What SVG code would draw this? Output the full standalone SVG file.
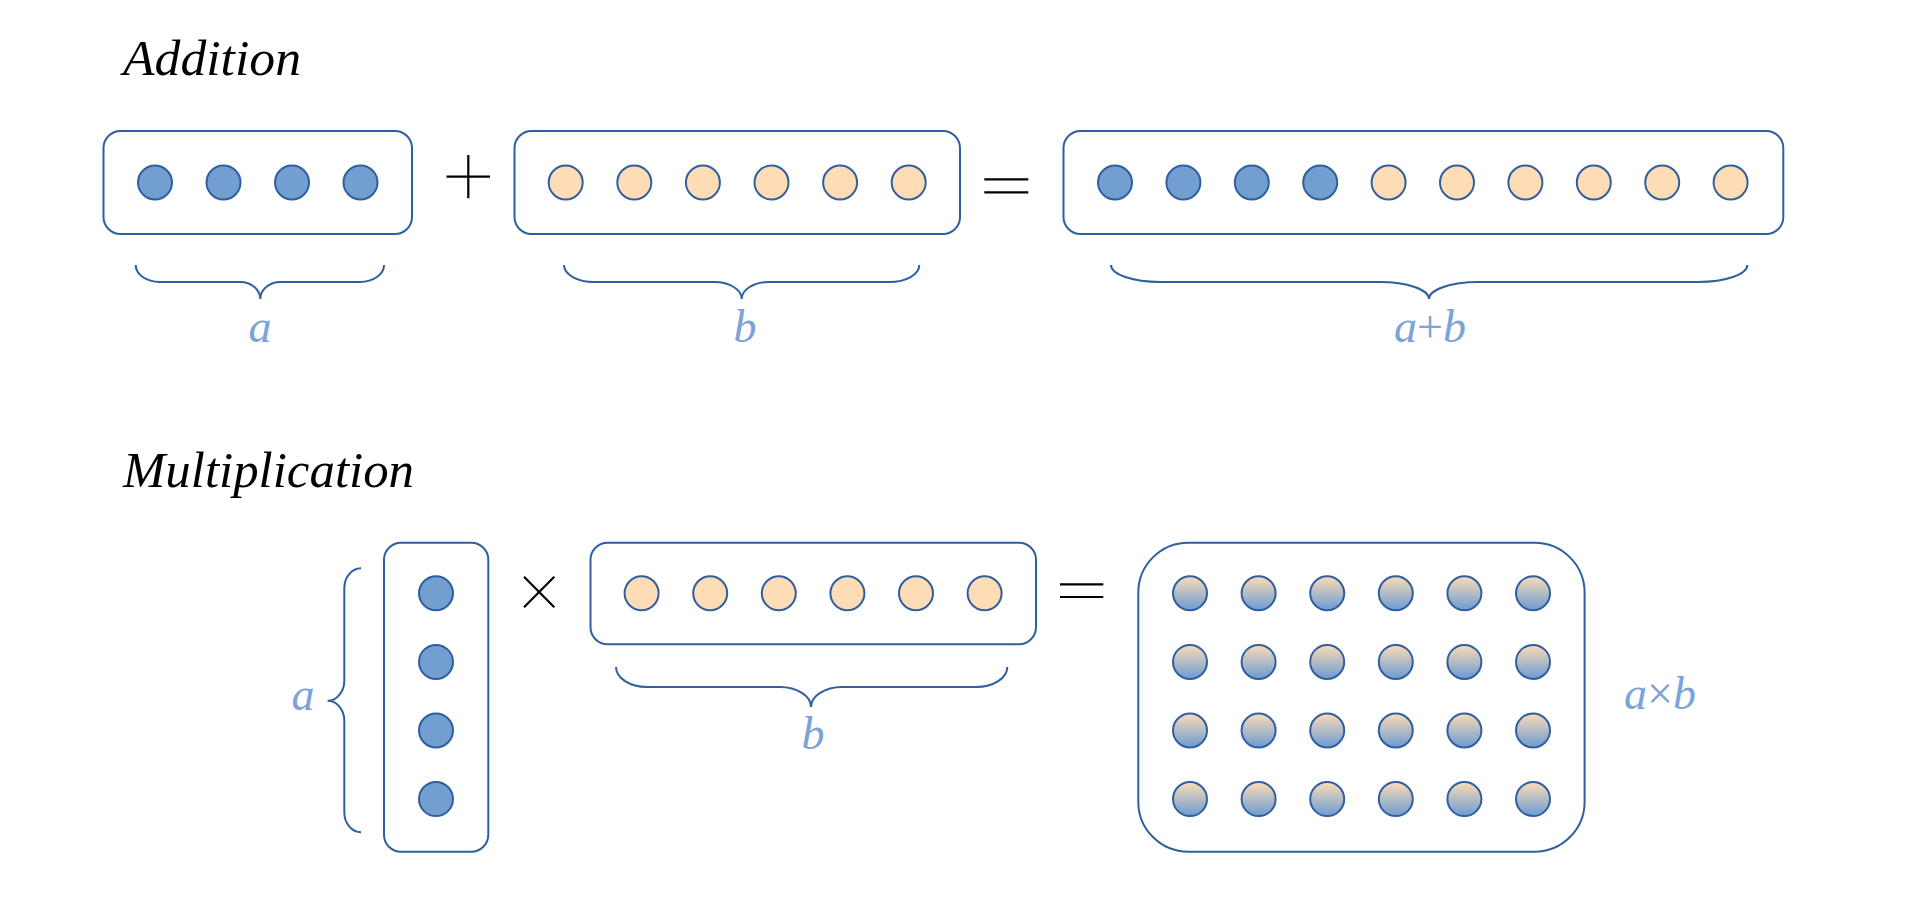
<svg xmlns="http://www.w3.org/2000/svg" width="1920" height="917" viewBox="0 0 1920 917">
<defs>
<linearGradient id="mix" x1="0" y1="0" x2="0" y2="1">
<stop offset="0" stop-color="#fcdcb6"/>
<stop offset="1" stop-color="#6b9bd3"/>
</linearGradient>
<style>
.box{fill:#fff;stroke:#2f5f9f;stroke-width:2}
.cb{fill:#729fcf;stroke:#2f5f9f;stroke-width:2}
.cp{fill:#fedcb5;stroke:#2f5f9f;stroke-width:2}
.cg{fill:url(#mix);stroke:#2f5f9f;stroke-width:2}
.brace{fill:none;stroke:#2f5f9f;stroke-width:2}
.op{stroke:#000;stroke-width:2.2;fill:none}
.title{font-family:"Liberation Serif",serif;font-style:italic;font-size:51px;fill:#000}
.lbl{font-family:"Liberation Serif",serif;font-style:italic;font-size:46px;fill:#7ba3d8;text-anchor:middle}
.up{font-style:normal}
</style>
</defs>
<rect width="1920" height="917" fill="#fff"/>

<text class="title" x="123" y="75" textLength="178" lengthAdjust="spacingAndGlyphs">Addition</text>
<text class="title" x="123" y="487" textLength="291" lengthAdjust="spacingAndGlyphs">Multiplication</text>

<g id="add-a">
<rect class="box" x="103.5" y="131" width="308.5" height="103" rx="17"/>
<circle class="cb" cx="155" cy="182.5" r="17"/>
<circle class="cb" cx="223.5" cy="182.5" r="17"/>
<circle class="cb" cx="292" cy="182.5" r="17"/>
<circle class="cb" cx="360.5" cy="182.5" r="17"/>
</g>

<g id="add-plus"><path class="op" d="M446.5,176.7 H490 M468.3,155 V198.3"/></g>

<g id="add-b">
<rect class="box" x="514.5" y="131" width="445.5" height="103" rx="17"/>
<circle class="cp" cx="565.7" cy="182.5" r="17"/>
<circle class="cp" cx="634.3" cy="182.5" r="17"/>
<circle class="cp" cx="702.9" cy="182.5" r="17"/>
<circle class="cp" cx="771.5" cy="182.5" r="17"/>
<circle class="cp" cx="840.1" cy="182.5" r="17"/>
<circle class="cp" cx="908.7" cy="182.5" r="17"/>
</g>

<g id="add-eq"><path class="op" d="M984.3,179.3 H1028.3 M984.3,192.3 H1028.3"/></g>

<g id="add-ab">
<rect class="box" x="1063.5" y="131" width="719.8" height="103" rx="17"/>
<circle class="cb" cx="1115" cy="182.5" r="17"/>
<circle class="cb" cx="1183.4" cy="182.5" r="17"/>
<circle class="cb" cx="1251.8" cy="182.5" r="17"/>
<circle class="cb" cx="1320.2" cy="182.5" r="17"/>
<circle class="cp" cx="1388.6" cy="182.5" r="17"/>
<circle class="cp" cx="1457" cy="182.5" r="17"/>
<circle class="cp" cx="1525.4" cy="182.5" r="17"/>
<circle class="cp" cx="1593.8" cy="182.5" r="17"/>
<circle class="cp" cx="1662.2" cy="182.5" r="17"/>
<circle class="cp" cx="1730.6" cy="182.5" r="17"/>
</g>

<g id="connectors">
<path class="brace" d="M135.7,265 A24,17 0 0 0 159.7,282 L240.3,282 A20,17 0 0 1 260.3,299 A20,17 0 0 1 280.3,282 L360,282 A24,17 0 0 0 384,265"/>
<path class="brace" d="M564,265 A30,17 0 0 0 594,282 L714.7,282 A27,17 0 0 1 741.7,299 A27,17 0 0 1 768.7,282 L889.3,282 A30,17 0 0 0 919.3,265"/>
<path class="brace" d="M1111,265 A49,17 0 0 0 1160,282 L1380,282 A49,17 0 0 1 1429,299 A49,17 0 0 1 1478,282 L1698.3,282 A49,17 0 0 0 1747.3,265"/>
<path class="brace" d="M361,568.3 A16.7,20 0 0 0 344.3,588.3 L344.3,680.7 A16.7,20 0 0 1 327.6,700.7 A16.7,20 0 0 1 344.3,720.7 L344.3,812.3 A16.7,20 0 0 0 361,832.3"/>
<path class="brace" d="M616,667 A31,20 0 0 0 647,687 L780,687 A31,20 0 0 1 811,707 A31,20 0 0 1 842,687 L976.3,687 A31,20 0 0 0 1007.3,667"/>
</g>

<g id="labels">
<text class="lbl" x="260" y="341.7">a</text>
<text class="lbl" x="745" y="341.7">b</text>
<text class="lbl" x="1430" y="341.7">a<tspan class="up">+</tspan>b</text>
<text class="lbl" x="303" y="710">a</text>
<text class="lbl" x="813" y="749">b</text>
<text class="lbl" x="1660" y="709">a<tspan class="up">×</tspan>b</text>
</g>

<g id="mul-a">
<rect class="box" x="384" y="542.7" width="104.3" height="309" rx="17"/>
<circle class="cb" cx="436" cy="593.3" r="17"/>
<circle class="cb" cx="436" cy="661.9" r="17"/>
<circle class="cb" cx="436" cy="730.5" r="17"/>
<circle class="cb" cx="436" cy="799.1" r="17"/>
</g>

<g id="mul-times"><path class="op" d="M524,576.7 L554.3,607.3 M554.3,576.7 L524,607.3"/></g>

<g id="mul-b">
<rect class="box" x="590.5" y="542.7" width="445.5" height="101.5" rx="17"/>
<circle class="cp" cx="641.6" cy="593.3" r="17"/>
<circle class="cp" cx="710.2" cy="593.3" r="17"/>
<circle class="cp" cx="778.8" cy="593.3" r="17"/>
<circle class="cp" cx="847.4" cy="593.3" r="17"/>
<circle class="cp" cx="916" cy="593.3" r="17"/>
<circle class="cp" cx="984.6" cy="593.3" r="17"/>
</g>

<g id="mul-eq"><path class="op" d="M1060,584.3 H1103.3 M1060,597 H1103.3"/></g>

<g id="mul-ab">
<rect class="box" x="1138.3" y="542.7" width="446.3" height="309" rx="50"/>
<g id="grid">
<circle class="cg" cx="1190" cy="593.3" r="17"/><circle class="cg" cx="1258.6" cy="593.3" r="17"/><circle class="cg" cx="1327.2" cy="593.3" r="17"/><circle class="cg" cx="1395.8" cy="593.3" r="17"/><circle class="cg" cx="1464.4" cy="593.3" r="17"/><circle class="cg" cx="1533" cy="593.3" r="17"/>
<circle class="cg" cx="1190" cy="661.9" r="17"/><circle class="cg" cx="1258.6" cy="661.9" r="17"/><circle class="cg" cx="1327.2" cy="661.9" r="17"/><circle class="cg" cx="1395.8" cy="661.9" r="17"/><circle class="cg" cx="1464.4" cy="661.9" r="17"/><circle class="cg" cx="1533" cy="661.9" r="17"/>
<circle class="cg" cx="1190" cy="730.5" r="17"/><circle class="cg" cx="1258.6" cy="730.5" r="17"/><circle class="cg" cx="1327.2" cy="730.5" r="17"/><circle class="cg" cx="1395.8" cy="730.5" r="17"/><circle class="cg" cx="1464.4" cy="730.5" r="17"/><circle class="cg" cx="1533" cy="730.5" r="17"/>
<circle class="cg" cx="1190" cy="799.1" r="17"/><circle class="cg" cx="1258.6" cy="799.1" r="17"/><circle class="cg" cx="1327.2" cy="799.1" r="17"/><circle class="cg" cx="1395.8" cy="799.1" r="17"/><circle class="cg" cx="1464.4" cy="799.1" r="17"/><circle class="cg" cx="1533" cy="799.1" r="17"/>
</g>
</g>
</svg>
